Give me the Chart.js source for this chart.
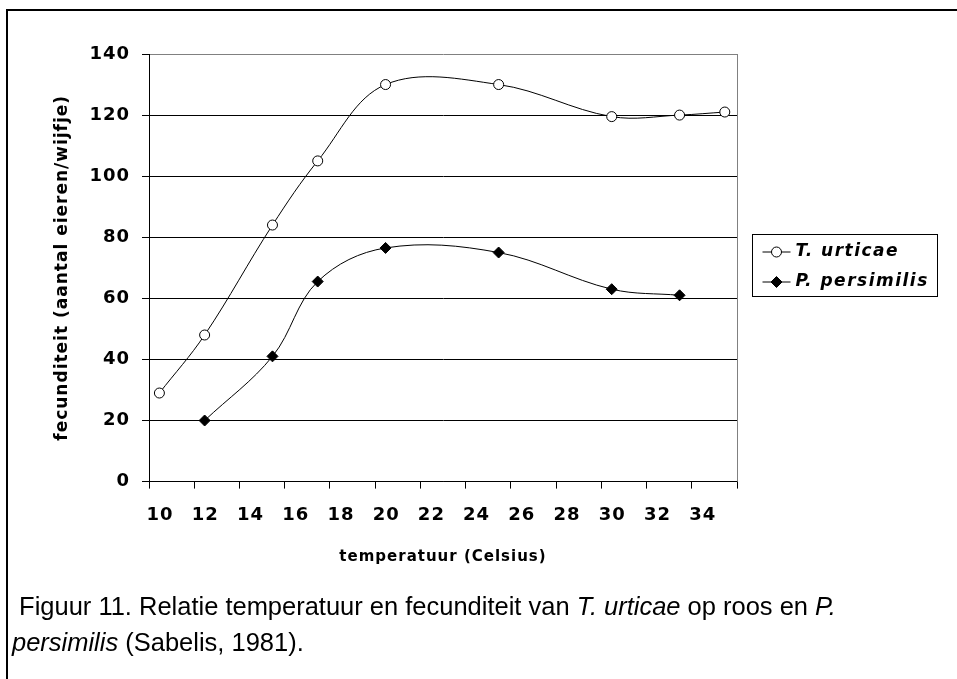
<!DOCTYPE html>
<html>
<head>
<meta charset="utf-8">
<script src="https://cdn.jsdelivr.net/npm/chart.js@4/dist/chart.umd.min.js"></script>
<style>
html,body{margin:0;padding:0;background:#fff;}
#wrap{position:relative;width:957px;height:679px;overflow:hidden;background:#fff;}
#topline{position:absolute;left:6px;top:9px;width:951px;height:2px;background:#000;}
#leftline{position:absolute;left:6px;top:9px;width:2px;height:670px;background:#000;}
#holder{position:absolute;left:0;top:0;width:957px;height:590px;}
#caption{position:absolute;left:12px;top:588px;font-family:"Liberation Sans",Arial,sans-serif;font-size:26px;line-height:36px;color:#000;white-space:pre;transform:scaleX(0.98);transform-origin:0 0;}
</style>
</head>
<body>
<div id="wrap">
  <div id="topline"></div>
  <div id="leftline"></div>
  <div id="holder"><canvas id="cv" width="957" height="590"></canvas></div>
  <div id="caption"> Figuur 11. Relatie temperatuur en fecunditeit van <i>T. urticae</i> op roos en <i>P.</i>
<i>persimilis</i> (Sabelis, 1981).</div>
</div>
<script>
// ---- data ----
const seriesNames = ['T. urticae', 'P. persimilis'];
const urticaeTemp = [10, 12, 15, 17, 20, 25, 30, 33, 35];
const urticaeFec  = [29, 48, 84, 105, 130, 130, 119.5, 120, 121];
const persimilisTemp = [12, 15, 17, 20, 25, 30, 33];
const persimilisFec  = [20, 41, 65.5, 76.5, 75, 63, 61];
const xTickLabels = ['10','12','14','16','18','20','22','24','26','28','30','32','34'];
const yTickValues = [0, 20, 40, 60, 80, 100, 120, 140];
const xAxisTitle = 'temperatuur (Celsius)';
const yAxisTitle = 'fecunditeit (aantal eieren/wijfje)';

// ---- layout constants ----
const X_START = 9.54, X_STEP = 2;
const FONT = "'DejaVu Sans', 'Liberation Sans', Arial, sans-serif";
const TEXT_SPACING = '1px';

const toPoints = (xs, ys) => xs.map((x, i) => ({x: x, y: ys[i]}));

const spacingPlugin = {
  id: 'spacing',
  beforeDraw(chart) {
    if ('letterSpacing' in chart.ctx) chart.ctx.letterSpacing = TEXT_SPACING;
  }
};

const legendPlugin = {
  id: 'boxLegend',
  afterDraw(chart) {
    const ctx = chart.ctx;
    const ca = chart.chartArea;
    const left = ca.right + 15.5, top = 234.5, w = 185, h = 62;
    ctx.save();
    ctx.strokeStyle = '#000';
    ctx.lineWidth = 1;
    ctx.strokeRect(left, top, w, h);
    chart.data.datasets.forEach((ds, i) => {
      const y = top + 17.5 + i * 30;
      ctx.strokeStyle = '#000';
      ctx.lineWidth = 1;
      ctx.beginPath();
      ctx.moveTo(left + 10, y);
      ctx.lineTo(left + 38, y);
      ctx.stroke();
      ctx.fillStyle = ds.pointBackgroundColor;
      ctx.strokeStyle = '#000';
      Chart.helpers.drawPoint(ctx, {pointStyle: ds.pointStyle, radius: ds.pointRadius, borderWidth: 1, rotation: 0}, left + 24, y);
      ctx.fillStyle = '#000';
      ctx.font = "italic bold 17px " + FONT;
      if ('letterSpacing' in ctx) ctx.letterSpacing = '1.5px';
      ctx.textAlign = 'left';
      ctx.textBaseline = 'middle';
      ctx.fillText(ds.label, left + 43, y);
    });
    ctx.restore();
  }
};

const plotBorder = {
  id: 'plotBorder',
  afterDatasetsDraw(chart) {
    const ctx = chart.ctx, ca = chart.chartArea;
    ctx.save();
    ctx.strokeStyle = '#808080';
    ctx.lineWidth = 1;
    ctx.beginPath();
    ctx.moveTo(Math.round(ca.right) + 0.5, ca.top);
    ctx.lineTo(Math.round(ca.right) + 0.5, ca.bottom);
    ctx.stroke();
    ctx.restore();
  }
};

new Chart(document.getElementById('cv'), {
  type: 'line',
  data: {
    datasets: [
      {
        label: seriesNames[0],
        data: toPoints(urticaeTemp, urticaeFec),
        borderColor: '#000', borderWidth: 1,
        pointStyle: 'circle', pointRadius: 5, pointBorderWidth: 1,
        pointBackgroundColor: '#fff', pointBorderColor: '#000',
        tension: 0.36, fill: false
      },
      {
        label: seriesNames[1],
        data: toPoints(persimilisTemp, persimilisFec),
        borderColor: '#000', borderWidth: 1,
        pointStyle: 'rectRot', pointRadius: 5.5, pointBorderWidth: 1,
        pointBackgroundColor: '#000', pointBorderColor: '#000',
        tension: 0.36, fill: false
      }
    ]
  },
  options: {
    responsive: false,
    animation: false,
    layout: {padding: {left: 20, top: 54, right: 220, bottom: 23.4}},
    plugins: {legend: {display: false}, tooltip: {enabled: false}},
    scales: {
      x: {
        type: 'linear',
        min: X_START,
        max: X_START + X_STEP * xTickLabels.length,
        afterBuildTicks: s => {
          const t = xTickLabels.map((l, i) => ({value: X_START + X_STEP * i}));
          t.push({value: X_START + X_STEP * xTickLabels.length});
          s.ticks = t;
        },
        afterFit: s => { s.height = 85; },
        ticks: {
          autoSkip: false, maxRotation: 0, minRotation: 0,
          callback: (v, i) => (i < xTickLabels.length ? xTickLabels[i] : ''),
          labelOffset: 11, padding: 16,
          color: '#000', font: {family: FONT, size: 18, weight: 'bold'}
        },
        grid: {drawOnChartArea: false, drawTicks: true, tickLength: 7, tickColor: '#000'},
        border: {display: true, color: '#000', width: 1},
        title: {display: true, text: xAxisTitle, color: '#000', padding: 0,
                font: {family: FONT, size: 15, weight: 'bold'}}
      },
      y: {
        type: 'linear',
        min: 0, max: 140,
        afterBuildTicks: s => { s.ticks = yTickValues.map(v => ({value: v})); },
        afterFit: s => { s.width = 129; },
        ticks: {
          padding: 12, color: '#000',
          font: {family: FONT, size: 18, weight: 'bold'}
        },
        grid: {
          color: c => (c.tick && c.tick.value === 140 ? '#808080' : '#000'),
          tickColor: '#000', tickLength: 7, lineWidth: 1
        },
        border: {display: true, color: '#000', width: 1},
        title: {display: true, text: yAxisTitle, color: '#000', padding: {top: 32, bottom: 0},
                font: {family: FONT, size: 17, weight: 'bold'}}
      }
    }
  },
  plugins: [spacingPlugin, legendPlugin, plotBorder]
});
</script>
</body>
</html>
